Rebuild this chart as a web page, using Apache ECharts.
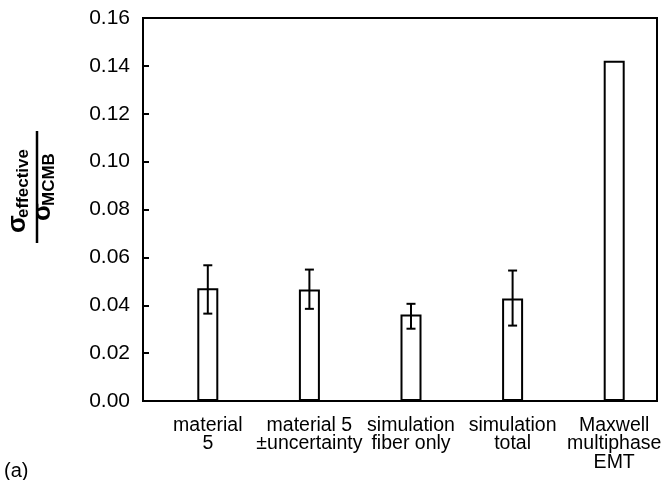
<!DOCTYPE html>
<html>
<head>
<meta charset="utf-8">
<script src="https://cdn.jsdelivr.net/npm/echarts@6/dist/echarts.min.js"></script>
<style>html,body{margin:0;padding:0;background:#fff}#c{width:668px;height:480px}</style>
</head>
<body>
<div id="c"></div>
<script>
var categories = ['material\n5', 'material 5\n\u00b1uncertainty', 'simulation\nfiber only', 'simulation\ntotal', 'Maxwell\nmultiphase\nEMT'];
var values = [0.0471, 0.0466, 0.0361, 0.0428, 0.1421];
var errLow = [0.0365, 0.0385, 0.0302, 0.0315, null];
var errHigh = [0.0567, 0.0549, 0.0406, 0.0545, null];
var yTicks = [0, 0.02, 0.04, 0.06, 0.08, 0.10, 0.12, 0.14, 0.16];

var FONT = '"Liberation Sans", Arial, Helvetica, sans-serif';
var errData = [];
for (var i = 0; i < categories.length; i++) {
  if (errLow[i] != null) errData.push([i, errLow[i], errHigh[i]]);
}

var chart = echarts.init(document.getElementById('c'), null, {renderer: 'canvas'});
chart.setOption({
  animation: false,
  backgroundColor: '#fff',
  grid: [
    {left: 143, right: 11, top: 18, bottom: 79, show: true, borderColor: '#000', borderWidth: 2, backgroundColor: 'transparent'},
    {left: 157, right: 3, top: 18, bottom: 79}
  ],
  xAxis: [
    {gridIndex: 0, type: 'value', min: 0, max: 1, show: false},
    {gridIndex: 1, type: 'category', data: categories,
      axisLine: {show: false}, axisTick: {show: false},
      axisLabel: {interval: 0, margin: 15, fontSize: 19.5, lineHeight: 18.5, color: '#000', fontFamily: FONT}}
  ],
  yAxis: [
    {gridIndex: 0, type: 'value', min: yTicks[0], max: yTicks[yTicks.length - 1], interval: 0.02,
      axisLine: {show: true, lineStyle: {color: '#000', width: 2}},
      axisTick: {show: true, inside: true, length: 6, lineStyle: {color: '#000', width: 2}},
      splitLine: {show: false},
      axisLabel: {margin: 13, fontSize: 21, color: '#000', fontFamily: FONT,
        formatter: function (v) { return v.toFixed(2); }}},
    {gridIndex: 1, type: 'value', min: yTicks[0], max: yTicks[yTicks.length - 1], interval: 0.02, show: false}
  ],
  series: [
    {type: 'bar', xAxisIndex: 1, yAxisIndex: 1, data: values, barWidth: 21, z: 3,
      itemStyle: {color: '#fff', borderColor: '#000', borderWidth: 2}},
    {type: 'custom', xAxisIndex: 1, yAxisIndex: 1, data: errData, z: 4,
      renderItem: function (params, api) {
        var x = api.value(0);
        var lo = api.coord([x, api.value(1)]);
        var hi = api.coord([x, api.value(2)]);
        var w = 4.5;
        var st = {stroke: '#000', lineWidth: 2};
        return {type: 'group', children: [
          {type: 'line', shape: {x1: hi[0], y1: hi[1], x2: lo[0], y2: lo[1]}, style: st},
          {type: 'line', shape: {x1: hi[0] - w, y1: hi[1], x2: hi[0] + w, y2: hi[1]}, style: st},
          {type: 'line', shape: {x1: lo[0] - w, y1: lo[1], x2: lo[0] + w, y2: lo[1]}, style: st}
        ]};
      }}
  ],
  graphic: [
    {type: 'group', x: 37, y: 187, rotation: Math.PI / 2, children: [
      {type: 'line', shape: {x1: -56, y1: 0, x2: 56, y2: 0}, style: {stroke: '#000', lineWidth: 2.5}},
      {type: 'text', x: -46, y: -6, style: {text: '\u03c3', font: 'bold 26px ' + FONT, fill: '#000', verticalAlign: 'bottom'}},
      {type: 'text', x: -31, y: -5, style: {text: 'effective', font: 'bold 17px ' + FONT, fill: '#000', verticalAlign: 'bottom'}},
      {type: 'text', x: -34, y: 19, style: {text: '\u03c3', font: 'bold 26px ' + FONT, fill: '#000', verticalAlign: 'bottom'}},
      {type: 'text', x: -19, y: 21, style: {text: 'MCMB', font: 'bold 17px ' + FONT, fill: '#000', verticalAlign: 'bottom'}}
    ]},
    {type: 'text', left: 4, top: 461, style: {text: '(a)', font: '20px ' + FONT, fill: '#000'}}
  ]
});
</script>
</body>
</html>
